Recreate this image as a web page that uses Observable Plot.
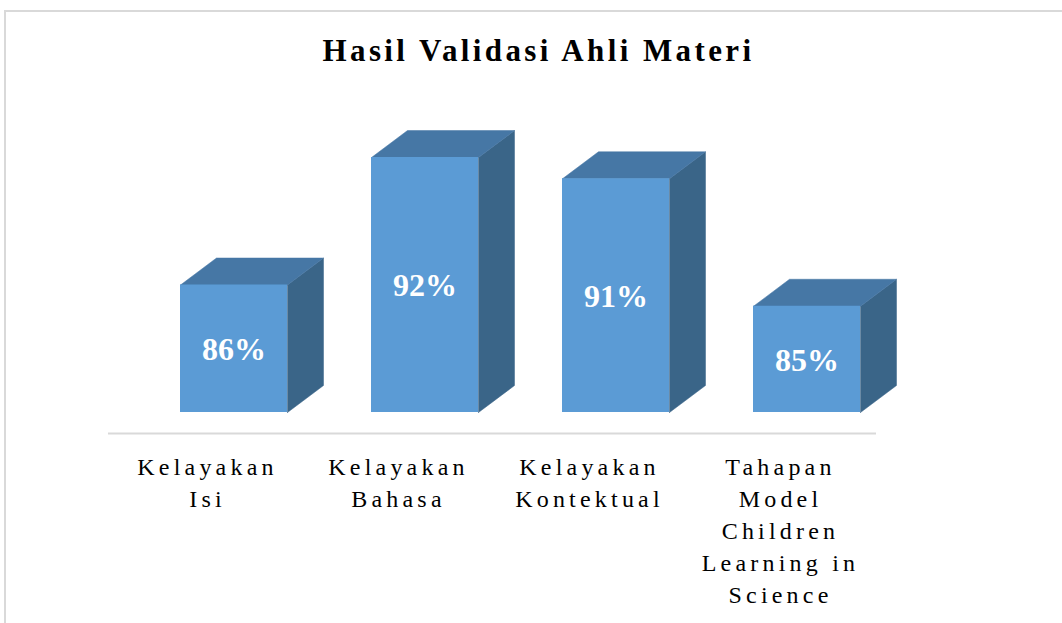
<!DOCTYPE html>
<html>
<head>
<meta charset="utf-8">
<script src="https://cdn.jsdelivr.net/npm/d3@7"></script>
<script src="https://cdn.jsdelivr.net/npm/@observablehq/plot@0.6"></script>
<style>
  html, body { margin: 0; padding: 0; background: #fff; }
  body { width: 1062px; height: 623px; position: relative; overflow: hidden; }
  #frame { position: absolute; left: 4px; top: 10px; width: 1200px; height: 800px;
           border-left: 2px solid #d9d9d9; border-top: 2px solid #d9d9d9; }
  #title { position: relative; height: 90px; box-sizing: border-box; padding-top: 35px;
           text-align: center; font-family: "Liberation Serif", "Times New Roman", serif;
           font-weight: bold; font-size: 31px; line-height: 31px; letter-spacing: 3.4px;
           color: #000; padding-left: 15px; }
  #chart { position: relative; }
</style>
</head>
<body>
<div id="frame"></div>
<div id="title">Hasil Validasi Ahli Materi</div>
<div id="chart"></div>
<script>
const categories = ["Kelayakan\nIsi", "Kelayakan\nBahasa", "Kelayakan\nKontektual", "Tahapan\nModel\nChildren\nLearning in\nScience"];
const values = [86, 92, 91, 85];
const valueLabels = ["86%", "92%", "91%", "85%"];

const base = 80;
const frontLeft = -0.1309, frontW = 0.5602, depthX = 0.1885, depthY = 1.27;

const rows = values.map((v, i) => ({i, v, x1: i + frontLeft, x2: i + frontLeft + frontW, label: valueLabels[i], cat: categories[i]}));
const tops = rows.flatMap(r => [[r.x1, r.v], [r.x2, r.v], [r.x2 + depthX, r.v + depthY], [r.x1 + depthX, r.v + depthY], [r.x1, r.v]].map(([x, y]) => ({x, y, i: r.i})));
const sides = rows.flatMap(r => [[r.x2, base], [r.x2, r.v], [r.x2 + depthX, r.v + depthY], [r.x2 + depthX, base + depthY], [r.x2, base]].map(([x, y]) => ({x, y, i: r.i})));

const chart = Plot.plot({
  width: 1062,
  height: 533,
  margin: 0,
  x: {domain: [-0.5, 3.5], range: [109.5, 873.5], axis: null},
  y: {domain: [80, 92], range: [322, 67], axis: null},
  marks: [
    Plot.ruleY([base], {x1: -0.508, x2: 3.513, dy: 21, stroke: "#d9d9d9", strokeWidth: 2}),
    Plot.line(sides, {x: "x", y: "y", z: "i", fill: "#3a6588", stroke: "#3a6588", strokeWidth: 0.5, curve: "linear"}),
    Plot.line(tops, {x: "x", y: "y", z: "i", fill: "#4677a5", stroke: "#4677a5", strokeWidth: 0.5, curve: "linear"}),
    Plot.rect(rows, {x1: "x1", x2: "x2", y1: base, y2: "v", fill: "#5b9bd5"}),
    Plot.text(rows, {x: d => (d.x1 + d.x2) / 2, y: d => (base + d.v) / 2, text: "label", fill: "#fff",
      fontFamily: "Liberation Serif", fontWeight: "bold", fontSize: 32, dy: 1}),
    Plot.text(rows, {x: "i", y: base, text: "cat", lineAnchor: "top", lineHeight: 1.3333, dy: 40, dx: 2,
      fontFamily: "Liberation Serif", fontSize: 24, fill: "#000"})
  ]
});
d3.select(chart).selectAll("g").filter(function() { return this.getAttribute("font-size") === "24"; })
  .attr("letter-spacing", "4.2px").style("letter-spacing", "4.2px");
document.getElementById("chart").appendChild(chart);
</script>
</body>
</html>
